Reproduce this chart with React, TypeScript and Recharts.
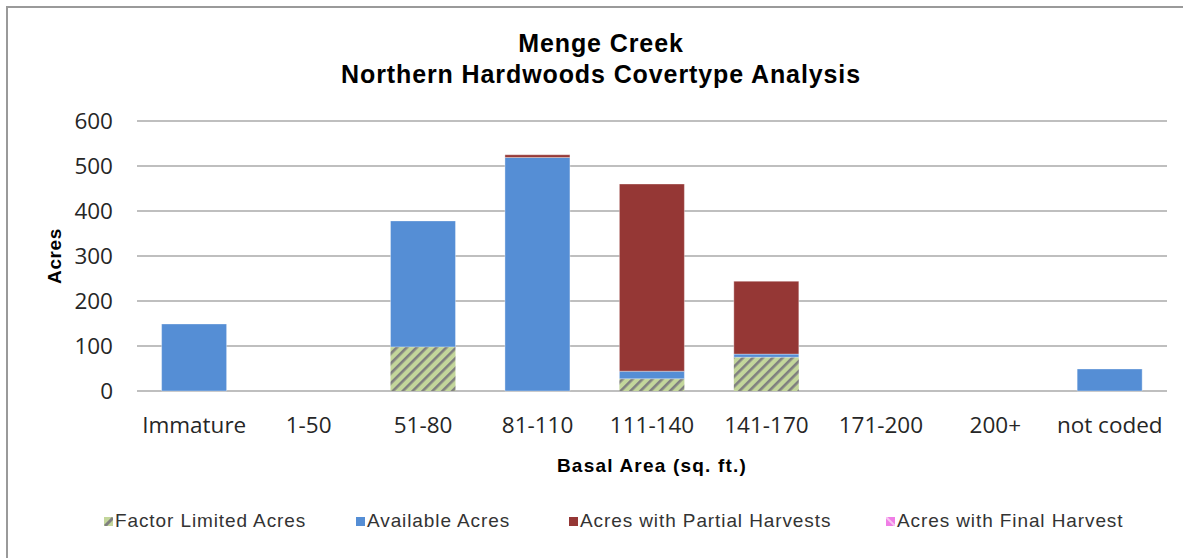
import React from 'react';
import { BarChart, Bar, XAxis, YAxis, CartesianGrid, Label } from 'recharts';

const categories = ['Immature', '1-50', '51-80', '81-110', '111-140', '141-170', '171-200', '200+', 'not coded'];
const factorLimited = [0, 0, 98, 0, 27, 75, 0, 0, 0];
const available = [149, 0, 280, 519, 17, 7, 0, 0, 49];
const partialHarvest = [0, 0, 0, 6, 416, 162, 0, 0, 0];
const finalHarvest = [0, 0, 0, 0, 0, 0, 0, 0, 0];
const yTicks = [0, 100, 200, 300, 400, 500, 600];

const series = [
  { key: 'factor', name: 'Factor Limited Acres', fill: 'url(#hatchGreen)' },
  { key: 'available', name: 'Available Acres', fill: '#558ed5' },
  { key: 'partial', name: 'Acres with Partial Harvests', fill: '#953735' },
  { key: 'final', name: 'Acres with Final Harvest', fill: '#f07ee6' },
];

const data = categories.map((name, i) => ({
  name,
  factor: factorLimited[i],
  available: available[i],
  partial: partialHarvest[i],
  final: finalHarvest[i],
}));

// left edge of each legend entry
const legendLeft = [104, 356, 569, 886];

const Marker = ({ k, fill }: { k: string; fill: string }) => (
  <svg width={9} height={9} style={{ marginRight: 2 }}>
    {k === 'factor' ? (
      <>
        <rect width={9} height={9} fill="#c3d69b" />
        <line x1={1} y1={9} x2={9} y2={1} stroke="#7f7f7f" strokeWidth={3} />
      </>
    ) : k === 'final' ? (
      <>
        <rect width={9} height={9} fill={fill} />
        <line x1={0} y1={0} x2={9} y2={9} stroke="#f7c4f2" strokeWidth={2} />
      </>
    ) : (
      <rect width={9} height={9} fill={fill} />
    )}
  </svg>
);

const ChartLegend = () => (
  <div style={{ position: 'absolute', top: 510, left: 0, width: 1183, height: 26 }}>
    {series.map((s, i) => (
      <div key={s.key} style={{ position: 'absolute', left: legendLeft[i], top: 0, display: 'flex', alignItems: 'center' }}>
        <Marker k={s.key} fill={s.fill} />
        <span style={{ fontFamily: '"Liberation Sans", Arial, sans-serif', fontSize: 19, letterSpacing: 0.9, color: '#333', whiteSpace: 'nowrap' }}>
          {s.name}
        </span>
      </div>
    ))}
  </div>
);

export default function App() {
  return (
    <div
      style={{
        position: 'fixed',
        left: 0,
        top: 0,
        width: 1183,
        height: 558,
        overflow: 'hidden',
        background: '#fff',
      }}
    >
      <div
        style={{
          position: 'absolute',
          left: 6,
          top: 6,
          width: 1190,
          height: 560,
          boxSizing: 'border-box',
          borderLeft: '2px solid #9a9a9a',
          borderTop: '2px solid #9a9a9a',
        }}
      />
      <div
        style={{
          position: 'absolute',
          top: 28,
          width: 1202,
          textAlign: 'center',
          fontFamily: '"Liberation Sans", Arial, sans-serif',
          fontWeight: 'bold',
          fontSize: 25,
          lineHeight: '31px',
          letterSpacing: 0.9,
          color: '#000',
        }}
      >
        <div>Menge Creek</div>
        <div>Northern Hardwoods Covertype Analysis</div>
      </div>
      <div style={{ position: 'absolute', left: 0, top: 0 }}>
        <BarChart
          width={1183}
          height={558}
          data={data}
          margin={{ top: 121, right: 16, bottom: 137, left: 0 }}
          barCategoryGap="21.5%"
        >
          <defs>
            <pattern id="hatchGreen" width={7} height={7} patternUnits="userSpaceOnUse" patternTransform="rotate(45)">
              <rect width={7} height={7} fill="#c3d69b" />
              <rect width={2.6} height={7} fill="#7f7f7f" />
            </pattern>
          </defs>
          <CartesianGrid vertical={false} stroke="#bfbfbf" strokeWidth={2} />
          <XAxis
            dataKey="name"
            height={30}
            axisLine={false}
            tickLine={false}
            tickSize={0}
            tickMargin={26}
            interval={0}
            tick={{ fontFamily: '"Open Sans", sans-serif', fontSize: 22.5, fill: '#262626' }}
          >
            <Label
              value="Basal Area (sq. ft.)"
              position="bottom"
              offset={38}
              style={{ fontFamily: '"Liberation Sans", Arial, sans-serif', fontWeight: 'bold', fontSize: 19, letterSpacing: 1.2, fill: '#000' }}
            />
          </XAxis>
          <YAxis
            width={137}
            domain={[0, 600]}
            ticks={yTicks}
            axisLine={false}
            tickLine={false}
            tickSize={0}
            tickMargin={24}
            tick={{ fontFamily: '"Open Sans", sans-serif', fontSize: 22.5, fill: '#262626' }}
          >
            <Label
              value="Acres"
              angle={-90}
              position="insideLeft"
              offset={54}
              style={{ textAnchor: 'middle', fontFamily: '"Liberation Sans", Arial, sans-serif', fontWeight: 'bold', fontSize: 19, letterSpacing: 0.6, fill: '#000' }}
            />
          </YAxis>
          {series.map((s) => (
            <Bar
              key={s.key}
              dataKey={s.key}
              name={s.name}
              stackId="a"
              fill={s.fill}
              stroke={s.key === 'factor' ? undefined : 'rgba(255,255,255,0.35)'}
              isAnimationActive={false}
            />
          ))}
        </BarChart>
      </div>
      <ChartLegend />
    </div>
  );
}
